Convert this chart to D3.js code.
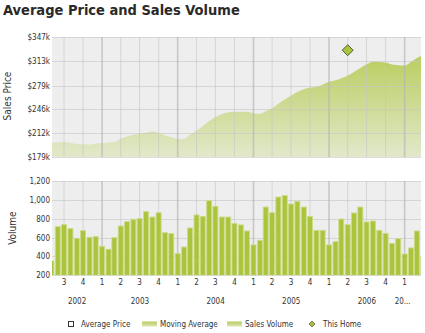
<!DOCTYPE html>
<html>
<head>
<meta charset="utf-8">
<script src="https://cdn.jsdelivr.net/npm/d3@7"></script>
<style>
  html, body { margin: 0; padding: 0; background: #fff; }
  svg { display: block; font-family: "DejaVu Sans Condensed", "DejaVu Sans", sans-serif; }
  .tick-label { font-size: 8px; fill: #333; }
</style>
</head>
<body>
<div id="chart"></div>
<script>
// monthly series, May 2002 .. Apr 2007
const months = d3.timeMonth.range(new Date(2002, 4, 1), new Date(2007, 4, 1));

// moving average of sale price, $k
const priceAvg = [199, 199.5, 200, 199, 197, 196.7, 196.5, 198, 198.6, 199, 200.3, 204.5,
  207.8, 210, 211.5, 212.8, 214.8, 212.8, 209.2, 207, 204.3, 204.6, 210.5, 215.5,
  222.5, 229.5, 234.8, 239, 241.5, 242.4, 242.4, 242.2, 240, 239.5, 243.2, 247.2,
  253.5, 259.5, 264.8, 270, 273.7, 276.3, 277, 280.5, 284.3, 286.3, 289.4, 292.8,
  298, 303.5, 308.8, 312.5, 312, 311.2, 308.6, 307.5, 307, 312, 317.5, 322];

// homes sold per month
const volume = [352, 716, 737, 695, 592, 674, 603, 610, 507, 476, 599, 723,
  769, 794, 801, 875, 818, 864, 652, 642, 430, 500, 702, 840,
  825, 992, 932, 818, 818, 751, 734, 670, 522, 571, 924, 864,
  1030, 1045, 956, 985, 924, 825, 677, 677, 522, 557, 797, 737,
  861, 924, 765, 776, 677, 645, 539, 589, 426, 490, 670, 398];

const thisHome = { date: new Date(2006, 3, 1), price: 328.5 };

const priceTicks = [179, 212, 246, 279, 313, 347];
const volumeTicks = [200, 400, 600, 800, 1000, 1200];
const legendItems = ['Average Price', 'Moving Average', 'Sales Volume', 'This Home'];

const W = 425, H = 333;
const L = 52, R = 421;
const top1 = 37, bot1 = 157;
const top2 = 181, bot2 = 275.3;

const svg = d3.select('#chart').append('svg').attr('width', W).attr('height', H);
const defs = svg.append('defs');

const grad = defs.append('linearGradient').attr('id', 'areaGrad')
  .attr('gradientUnits', 'userSpaceOnUse').attr('x1', 0).attr('x2', 0).attr('y1', top1).attr('y2', bot1);
grad.append('stop').attr('offset', 0).attr('stop-color', '#b3c94c');
grad.append('stop').attr('offset', 1).attr('stop-color', '#e2e8cb');

const swGrad = defs.append('linearGradient').attr('id', 'swatchGrad')
  .attr('x1', 0).attr('x2', 0).attr('y1', 0).attr('y2', 1);
swGrad.append('stop').attr('offset', 0).attr('stop-color', '#b7cc5a');
swGrad.append('stop').attr('offset', 1).attr('stop-color', '#dde6bb');

defs.append('clipPath').attr('id', 'clip1').append('rect')
  .attr('x', L).attr('y', top1).attr('width', R - L).attr('height', bot1 - top1);
defs.append('clipPath').attr('id', 'clip2').append('rect')
  .attr('x', L).attr('y', top2).attr('width', R - L).attr('height', bot2 - top2);

const x = d3.scaleTime()
  .domain([new Date(2002, 4, 4), new Date(2007, 2, 21)])
  .range([L, R]);
const yPrice = d3.scaleLinear().domain([179, 347]).range([bot1, top1]);
const yVol = d3.scaleLinear().domain([200, 1200]).range([bot2, top2]);

const quarters = d3.timeMonth.every(3).range(x.domain()[0], x.domain()[1]);
const isYear = d => d.getMonth() === 0;

// title
svg.append('text')
  .attr('x', 3).attr('y', 15)
  .attr('font-size', 14.5).attr('font-weight', 700).attr('fill', '#2a2a2a')
  .text('Average Price and Sales Volume');

// shared grid painter
function grid(g, y, ticks, y0, y1) {
  g.append('rect').attr('x', L).attr('y', y1).attr('width', R - L).attr('height', y0 - y1)
    .attr('fill', '#eeeeee');
  return () => {
    g.selectAll(null).data(ticks).join('line')
      .attr('x1', L).attr('x2', R)
      .attr('y1', d => Math.round(y(d)) + 0.5).attr('y2', d => Math.round(y(d)) + 0.5)
      .attr('stroke', 'rgb(196,196,196)').attr('stroke-opacity', 0.6);
    g.selectAll(null).data(quarters).join('line')
      .attr('x1', d => x(d)).attr('x2', d => x(d))
      .attr('y1', y1).attr('y2', y0)
      .attr('stroke', d => isYear(d) ? 'rgb(180,180,180)' : 'rgb(196,196,196)')
      .attr('stroke-opacity', d => isYear(d) ? 0.65 : 0.6)
      .attr('stroke-width', d => isYear(d) ? 1.6 : 1);
  };
}

// ---- price panel
const g1 = svg.append('g');
const lines1 = grid(g1, yPrice, priceTicks, bot1, top1);

const area = d3.area()
  .x((d, i) => x(months[i]))
  .y0(bot1)
  .y1(d => yPrice(d))
  .curve(d3.curveMonotoneX);

g1.append('path')
  .attr('clip-path', 'url(#clip1)')
  .attr('d', area(priceAvg))
  .attr('fill', 'url(#areaGrad)');
lines1();

g1.append('path')
  .attr('transform', `translate(${x(thisHome.date)},${yPrice(thisHome.price)})`)
  .attr('d', 'M0,-5.5L5.5,0L0,5.5L-5.5,0Z')
  .attr('fill', '#a8c43a').attr('stroke', '#4d4d3a').attr('stroke-width', 0.9);

g1.selectAll('text.tick-label').data(priceTicks).join('text')
  .attr('class', 'tick-label')
  .attr('x', 50).attr('y', d => yPrice(d) + 3)
  .attr('text-anchor', 'end')
  .text(d => `$${d}k`);

svg.append('text')
  .attr('transform', `translate(11,${(top1 + bot1) / 2 - 1}) rotate(-90)`)
  .attr('text-anchor', 'middle').attr('font-size', 10).attr('fill', '#333')
  .text('Sales Price');

// ---- volume panel
const g2 = svg.append('g');
const lines2 = grid(g2, yVol, volumeTicks, bot2, top2);
lines2();

g2.append('g').attr('clip-path', 'url(#clip2)')
  .selectAll('rect').data(volume).join('rect')
  .attr('x', (d, i) => x(months[i]) - 2.5)
  .attr('width', 5)
  .attr('y', d => yVol(d))
  .attr('height', d => yVol(200) - yVol(d))
  .attr('fill', '#aac43c')
  .attr('stroke', '#cddc8c').attr('stroke-width', 0.9);

g2.selectAll('text.tick-label').data(volumeTicks).join('text')
  .attr('class', 'tick-label')
  .attr('x', 50).attr('y', d => yVol(d) + 3)
  .attr('text-anchor', 'end')
  .text(d3.format(','));

svg.append('text')
  .attr('transform', `translate(16,${(top2 + bot2) / 2}) rotate(-90)`)
  .attr('text-anchor', 'middle').attr('font-size', 10).attr('fill', '#333')
  .text('Volume');

// quarter + year labels
svg.selectAll('text.q').data(quarters).join('text')
  .attr('class', 'tick-label q')
  .attr('x', d => x(d)).attr('y', 285)
  .attr('text-anchor', 'middle')
  .text(d => d.getMonth() / 3 + 1);

const years = d3.timeYear.range(new Date(2002, 0, 1), x.domain()[1]);
svg.selectAll('text.yr').data(years).join('text')
  .attr('class', 'tick-label yr')
  .attr('y', 304)
  .attr('text-anchor', 'middle')
  .each(function (d) {
    const a = Math.max(L, x(d)), b = Math.min(R, x(d3.timeYear.offset(d, 1)));
    const short = b - a < 30;
    d3.select(this)
      .attr('x', short ? a - 2 : (a + b) / 2)
      .text(short ? String(d.getFullYear()).slice(0, 2) + '...' : d.getFullYear());
  });

// legend
const lg = svg.append('g').attr('transform', 'translate(0,324)');
const lgX = [68, 142, 227, 312];
const lgItem = lg.selectAll('g').data(legendItems).join('g')
  .attr('transform', (d, i) => `translate(${lgX[i]},0)`);
lgItem.each(function (d, i) {
  const s = d3.select(this);
  if (i === 0) {
    s.append('rect').attr('x', 0.5).attr('y', -2.5).attr('width', 5).attr('height', 5)
      .attr('fill', '#fff').attr('stroke', '#333');
  } else if (i === 3) {
    s.append('path').attr('d', 'M0,-3L3,0L0,3L-3,0Z')
      .attr('fill', '#a8c43a').attr('stroke', '#4d4d3a').attr('stroke-width', 0.7);
  } else {
    s.append('rect').attr('x', 0).attr('y', -2.5).attr('width', 15).attr('height', 5)
      .attr('fill', 'url(#swatchGrad)');
  }
  s.append('text').attr('class', 'tick-label')
    .attr('x', i === 0 ? 13 : i === 3 ? 11 : 18).attr('y', 3)
    .text(d);
});
</script>
</body>
</html>
